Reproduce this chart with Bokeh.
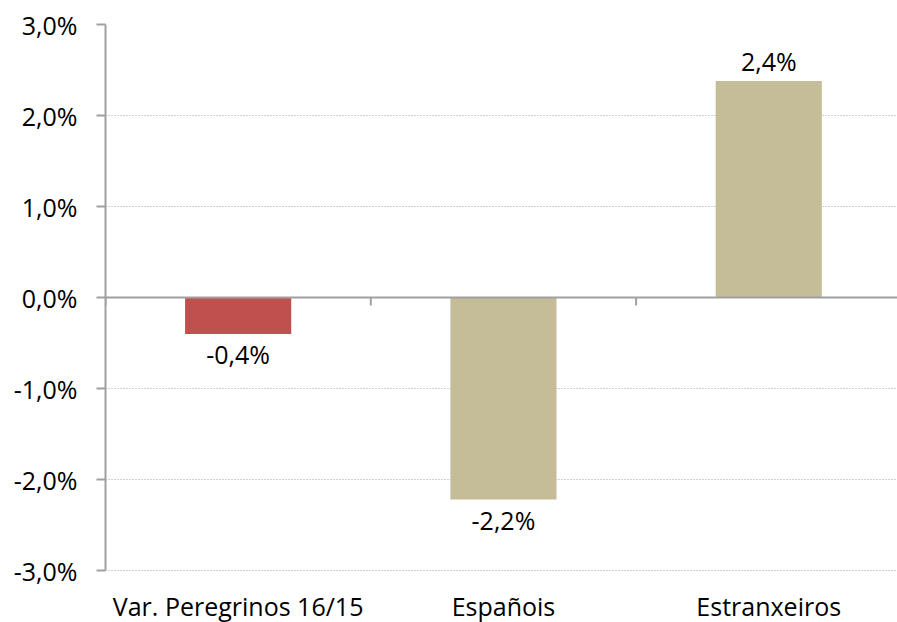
from bokeh.plotting import figure
from bokeh.models import ColumnDataSource, Range1d, Span, LabelSet, FixedTicker
from bokeh.core.properties import value
from bokeh.embed import file_html
from bokeh.resources import INLINE

categories = ["Var. Peregrinos 16/15", "Españois", "Estranxeiros"]
values = [-0.40, -2.22, 2.38]
value_labels = ["-0,4%", "-2,2%", "2,4%"]
bar_colors = ["#C0504D", "#C4BD97", "#C4BD97"]
y_ticks = [-3, -2, -1, 0, 1, 2, 3]
y_tick_labels = ["-3,0%", "-2,0%", "-1,0%", "0,0%", "1,0%", "2,0%", "3,0%"]

FONT = "Open Sans"
FS = "25px"
W, H = 897, 622
BL, BT = 105, 24
PLOT_H = 546          # pixel height of the -3%..3% area
LABEL_H = H - BT - PLOT_H
frame_w = W - BL
band_px = 265.3
Y0, Y1 = -3, 3
px_per_unit = PLOT_H / (Y1 - Y0)

xs = [i + 0.5 for i in range(len(categories))]
offsets = [20 if v > 0 else -20 for v in values]
src = ColumnDataSource(dict(x=xs, top=values, color=bar_colors, label=value_labels, yoff=offsets))
cat_src = ColumnDataSource(dict(x=xs, y=[Y0] * len(xs), name=categories))

p = figure(width=W, height=H, output_backend="svg", toolbar_location=None,
           x_range=Range1d(0, frame_w / band_px),
           y_range=Range1d(Y0 - LABEL_H / px_per_unit, Y1),
           min_border_left=BL, min_border_right=0, min_border_top=BT, min_border_bottom=0)
p.outline_line_color = None
p.background_fill_color = "white"
p.border_fill_color = "white"

p.xgrid.grid_line_color = None
p.ygrid.ticker = FixedTicker(ticks=[t for t in y_ticks if t != 0])
p.ygrid.grid_line_color = "#A0A0A0"
p.ygrid.grid_line_dash = "1 2"
p.ygrid.grid_line_width = 1

p.vbar(x="x", top="top", bottom=0, width=0.4, color="color", source=src, line_color=None)

# zero axis line with category boundary ticks
p.add_layout(Span(location=0, dimension="width", line_color="#A0A0A0", line_width=2))
tick_len = 8 / px_per_unit
bounds = [i for i in range(0, len(categories))]
p.segment(x0=bounds, x1=bounds, y0=[0] * len(bounds), y1=[-tick_len] * len(bounds),
          line_color="#A0A0A0", line_width=2)

labels = LabelSet(x="x", y="top", text="label", y_offset="yoff", source=src,
                  text_align="center", text_baseline="middle",
                  text_font=value(FONT), text_font_size=value(FS), text_color="black")
p.add_layout(labels)

cat_labels = LabelSet(x="x", y="y", text="name", y_offset=-18, source=cat_src,
                      text_align="center", text_baseline="top",
                      text_font=value(FONT), text_font_size=value(FS), text_color="black")
p.add_layout(cat_labels)

# y axis
p.yaxis.bounds = (Y0, Y1)
p.yaxis.ticker = FixedTicker(ticks=y_ticks)
p.yaxis.major_label_overrides = {t: l for t, l in zip(y_ticks, y_tick_labels)}
p.yaxis.axis_line_color = "#A0A0A0"
p.yaxis.axis_line_width = 2
p.yaxis.major_tick_line_color = "#A0A0A0"
p.yaxis.major_tick_line_width = 2
p.yaxis.major_tick_out = 9
p.yaxis.major_tick_in = 0
p.yaxis.minor_tick_line_color = None
p.yaxis.major_label_standoff = 19
p.yaxis.major_label_text_font = FONT
p.yaxis.major_label_text_font_size = FS
p.yaxis.major_label_text_color = "black"

p.xaxis.visible = False

open("out.html", "w").write(file_html(p, INLINE))
